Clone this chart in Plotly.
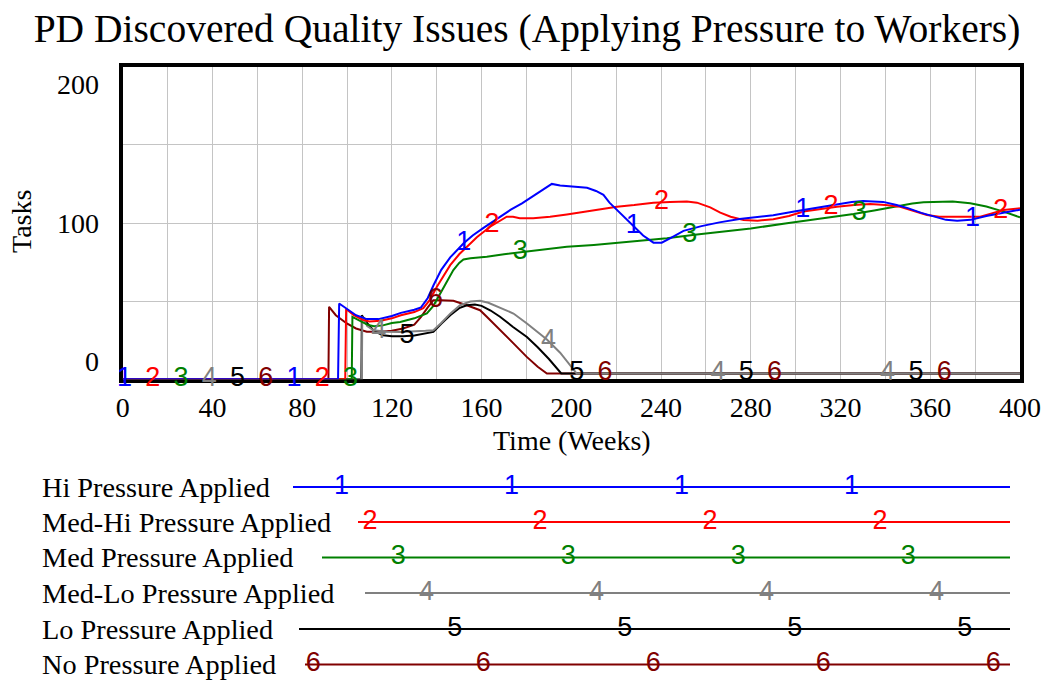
import numpy as np
import plotly.graph_objects as go

# ---------------- data ----------------
TITLE = "PD Discovered Quality Issues (Applying Pressure to Workers)"
X_TITLE = "Time (Weeks)"
Y_TITLE = "Tasks"
X_TICKS = [0, 40, 80, 120, 160, 200, 240, 280, 320, 360, 400]
Y_TICKS = [0, 100, 200]

SERIES_NAMES = [
    "Hi Pressure Applied",
    "Med-Hi Pressure Applied",
    "Med Pressure Applied",
    "Med-Lo Pressure Applied",
    "Lo Pressure Applied",
    "No Pressure Applied",
]
SERIES_TAGS = ["1", "2", "3", "4", "5", "6"]

t_hi = [0, 96, 96.5, 100, 104, 108.8, 114, 120, 124, 130, 133, 136, 138.5, 142, 146, 152, 156, 161,
        167, 173, 178, 183, 188, 191.3, 195, 200, 207, 211, 214.3, 217, 220.3, 224, 228, 232, 236.6,
        240.3, 245, 250, 258, 266, 275, 281, 290, 300, 310, 318, 325, 330, 339, 345, 350, 356, 362,
        367, 372, 378, 385, 392, 400]
v_hi = [0, 0, 48.5, 45, 41, 38.5, 38.5, 40.5, 42.5, 44.5, 46, 52, 60, 70, 78, 87, 92, 97,
        102.5, 108.5, 112.5, 117, 121.5, 125, 124, 123.5, 122.5, 120.5, 118, 113, 108.3, 103, 97.5, 92, 87.4,
        87.4, 91, 95, 98, 100.4, 102.5, 103.6, 105, 107.5, 110, 112, 113.5, 114, 113.5, 111.5, 109.5, 106.5, 104,
        102, 101.5, 102, 104.5, 106.5, 108.5]

t_medhi = [0, 99.2, 99.6, 103, 107, 110, 115, 120, 124, 130, 134, 137, 140, 143, 146, 150, 153.4, 158,
           163.8, 168, 171.2, 174, 177, 183, 190.5, 198, 205.4, 213, 220.3, 228, 236.6, 244, 251.5, 256,
           261.9, 266.4, 271, 276.8, 283, 290, 297, 303.5, 311, 318.4, 326, 333.2, 340, 346.6, 352, 358.5,
           364, 370.4, 376, 382.3, 387, 392.7, 400]
v_medhi = [0, 0, 45, 41, 38, 37, 37.5, 39, 41, 43, 45.5, 51, 59, 66, 73, 80, 84.8, 91,
           97.6, 101.5, 104, 104, 103, 103, 104, 105.5, 107.2, 109, 110.4, 111.5, 113, 113.5, 113.7, 113,
           110, 106.6, 104, 101.9, 101.5, 102.4, 104.5, 107.3, 109, 110.4, 111.5, 112.2, 111.5, 110.4, 108, 105.1,
           104, 104, 104, 104, 106, 108.3, 109.4]

t_med = [0, 102.1, 102.4, 106, 109, 112, 116, 120, 123.7, 130, 135.6, 138.5, 141.5, 144.5, 147.4, 150,
         151.9, 155, 162.3, 170, 180.2, 190, 198, 210, 220.3, 230, 242.6, 255, 266.4, 280, 296.1, 310,
         325.8, 335, 343.6, 352, 357, 363, 370, 377.8, 385, 392.7, 400]
v_med = [0, 0, 40, 37, 35, 34, 34.5, 36, 36.7, 39, 42.1, 47, 54.9, 63, 69.9, 74.5,
         76.7, 77.5, 78.4, 80, 81.6, 83.2, 84.8, 86, 87.4, 88.5, 90.2, 92.5, 94.4, 96.5, 99.8, 102.5,
         105.8, 108, 110.4, 112.5, 113.3, 113.7, 113.7, 112.6, 110.5, 107.3, 103.6]

t_medlo = [0, 106.6, 106.8, 109, 111.8, 118, 123.7, 130, 135, 138.5, 142, 146, 150.4, 155, 159.3, 163,
           168.2, 174.2, 180.2, 185, 189.1, 195, 199.5, 202.4, 400]
v_medlo = [0, 0, 40, 34, 31.4, 30.5, 30.3, 30.5, 31, 31.4, 36, 42, 47.4, 49.8, 50.2, 49,
           46, 42.1, 35.7, 30.5, 25.5, 17, 9, 3.7, 3.7]

t_lo = [0, 106.4, 106.6, 109, 112, 116, 120, 125, 130, 135, 138.5, 142, 146, 150, 153.4, 157, 160,
        164, 168.2, 174, 180.2, 185, 190, 195.5, 400]
v_lo = [0, 0, 41, 36, 31, 28.2, 27.5, 27.5, 28, 29.5, 30.3, 35.5, 41, 45.5, 47.4, 47.8, 47,
        44, 40, 33.5, 27.1, 20.5, 13, 3.7, 3.7]

t_none = [0, 91.7, 92, 95, 99.9, 104, 108.8, 115, 120, 125, 130, 133, 136, 138.5, 142, 147.4, 153.4,
          159.3, 162.3, 168, 174.2, 180, 185, 189.1, 400]
v_none = [0, 0, 46.4, 41, 35.7, 32.5, 30.5, 30.5, 31, 32.5, 35, 40, 46, 50.6, 50.6, 50.2, 47.4,
          44.2, 40, 32, 23, 14.5, 8, 3.7, 3.7]

SERIES_T = [t_hi, t_medhi, t_med, t_medlo, t_lo, t_none]
SERIES_V = [v_hi, v_medhi, v_med, v_medlo, v_lo, v_none]

# ---------------- styling / layout ----------------
COLORS = ["#0000FF", "#FF0000", "#008000", "#808080", "#000000", "#800000"]
W, H = 1045, 681
PLOT_L, PLOT_R, PLOT_T, PLOT_B = 122.7, 1020.0, 66.7, 379.3
SERIF = "Liberation Serif, Times New Roman, serif"
SANS = "Liberation Sans, Arial, sans-serif"
MARK_T0, MARK_SERIES_STEP, MARK_STEP = 0.8, 12.6, 75.6

LEG_ROW_Y = [487, 522, 557.5, 593, 629, 664.5]
LEG_LABEL_X = 40
LEG_LINE_START = [293, 358, 322, 365, 299, 305]
LEG_LINE_END = 1010
LEG_MARK0, LEG_MARK_SERIES_STEP, LEG_MARK_STEP = 313.3, 28.3, 170.0
LEG_TOP = 465

fig = go.Figure()

# series lines: drawn in reverse so that series 1 ends up on top
for i in reversed(range(6)):
    fig.add_trace(go.Scatter(x=SERIES_T[i], y=SERIES_V[i], mode="lines",
                             line=dict(color=COLORS[i], width=2),
                             showlegend=False, hoverinfo="skip", xaxis="x", yaxis="y"))

# numbered markers along each series
for i in range(6):
    mt = []
    k = 0
    while True:
        t = MARK_T0 + MARK_SERIES_STEP * i + MARK_STEP * k
        if t > 400:
            break
        mt.append(t)
        k += 1
    mv = np.interp(mt, SERIES_T[i], SERIES_V[i])
    fig.add_trace(go.Scatter(x=mt, y=mv, mode="text", text=[SERIES_TAGS[i]] * len(mt),
                             textposition="middle center",
                             textfont=dict(family=SANS, size=27, color=COLORS[i]),
                             cliponaxis=False, showlegend=False, hoverinfo="skip",
                             xaxis="x", yaxis="y"))

# legend block (own pixel-scaled axes)
for i in range(6):
    y = LEG_ROW_Y[i]
    fig.add_trace(go.Scatter(x=[LEG_LINE_START[i], LEG_LINE_END], y=[y, y], mode="lines",
                             line=dict(color=COLORS[i], width=2),
                             showlegend=False, hoverinfo="skip", xaxis="x2", yaxis="y2"))
    j = (i + 1) % 6
    mx = []
    k = 0
    while True:
        m = LEG_MARK0 + LEG_MARK_SERIES_STEP * j + LEG_MARK_STEP * k
        if m > LEG_LINE_END:
            break
        if m >= LEG_LINE_START[i]:
            mx.append(m)
        k += 1
    fig.add_trace(go.Scatter(x=mx, y=[y] * len(mx), mode="text", text=[SERIES_TAGS[i]] * len(mx),
                             textposition="middle center",
                             textfont=dict(family=SANS, size=27, color=COLORS[i]),
                             cliponaxis=False, showlegend=False, hoverinfo="skip",
                             xaxis="x2", yaxis="y2"))
    fig.add_annotation(x=LEG_LABEL_X, y=y, xref="x2", yref="y2", text=SERIES_NAMES[i],
                       showarrow=False, xanchor="left", yanchor="middle",
                       font=dict(family=SERIF, size=28.3, color="black"))

# y tick labels (Vensim style: top/bottom labels kept inside the frame height)
for val in Y_TICKS:
    if val == max(Y_TICKS):
        anchor = "top"
    elif val == min(Y_TICKS):
        anchor = "bottom"
    else:
        anchor = "middle"
    fig.add_annotation(x=0, xref="paper", xshift=101, y=val, yref="y", text=str(val),
                       showarrow=False, xanchor="right", yanchor=anchor,
                       font=dict(family=SERIF, size=28, color="black"))

fig.add_annotation(x=21 / W, y=1 - 222 / H, xref="paper", yref="paper", text=Y_TITLE,
                   textangle=-90, showarrow=False, xanchor="center", yanchor="middle",
                   font=dict(family=SERIF, size=28, color="black"))
fig.add_annotation(x=572 / W, y=1 - 440 / H, xref="paper", yref="paper", text=X_TITLE,
                   showarrow=False, xanchor="center", yanchor="middle",
                   font=dict(family=SERIF, size=28, color="black"))

fig.update_layout(
    width=W, height=H, margin=dict(l=0, r=0, t=0, b=0, pad=0, autoexpand=False),
    paper_bgcolor="white", plot_bgcolor="rgba(0,0,0,0)",
    title=dict(text=TITLE, x=527 / W, y=1 - 28 / H, xanchor="center", yanchor="middle",
               font=dict(family=SERIF, size=39.5, color="black")),
    xaxis=dict(domain=[PLOT_L / W, PLOT_R / W], range=[0, 400], tickvals=X_TICKS,
               ticktext=[str(v) for v in X_TICKS], ticks="", showgrid=True, gridcolor="#c4c4c4",
               gridwidth=1, minor=dict(dtick=20, showgrid=True, gridcolor="#c4c4c4", gridwidth=1),
               zeroline=False, showline=True, mirror=True, linecolor="black", linewidth=3.5,
               layer="below traces", tickfont=dict(family=SERIF, size=28, color="black"),
               anchor="y", fixedrange=True, automargin=False),
    yaxis=dict(domain=[1 - PLOT_B / H, 1 - PLOT_T / H], range=[0, 200], dtick=50,
               showticklabels=False, ticks="", showgrid=True, gridcolor="#c4c4c4", gridwidth=1,
               zeroline=False, showline=True, mirror=True, linecolor="black", linewidth=3.5,
               layer="below traces", anchor="x", fixedrange=True, automargin=False),
    xaxis2=dict(domain=[0, 1], range=[0, W], visible=False, anchor="y2", fixedrange=True,
                automargin=False),
    yaxis2=dict(domain=[0, 1 - LEG_TOP / H], range=[H, LEG_TOP], visible=False, anchor="x2",
                fixedrange=True, automargin=False),
    showlegend=False,
)

fig.write_html("out.html", config={"displayModeBar": False},
               post_script="document.body.style.margin='0px';")
